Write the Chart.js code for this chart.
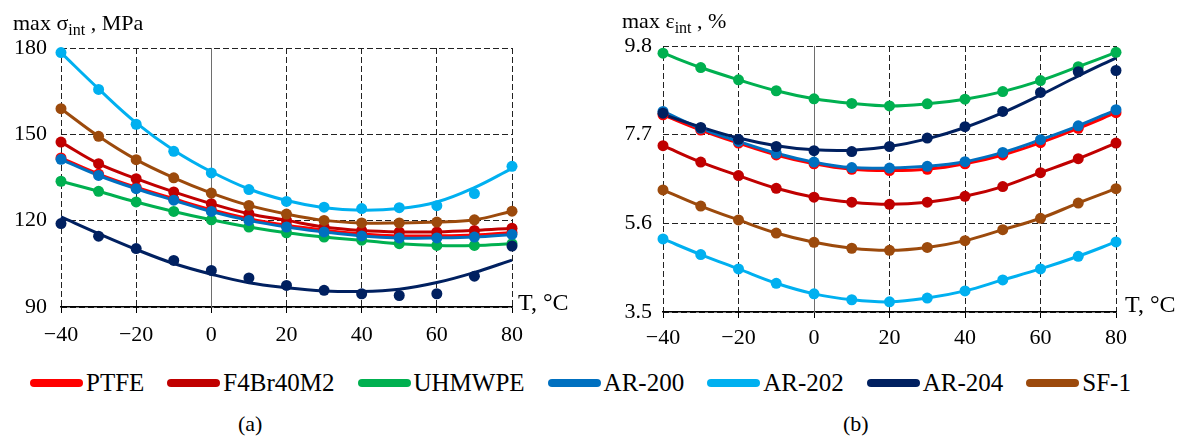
<!DOCTYPE html>
<html>
<head>
<meta charset="utf-8">
<script src="https://cdn.jsdelivr.net/npm/chart.js@4/dist/chart.umd.min.js"></script>
<style>
  html, body { margin: 0; padding: 0; }
  body { width: 1181px; height: 440px; background: #fff; position: relative; overflow: hidden; color: #000; }
  .box { position: absolute; top: 0; }
  .lab { position: absolute; font-family: 'Liberation Serif', 'DejaVu Serif', serif; font-size: 22px;
         line-height: 1; white-space: nowrap; }
  .lab sub { font-size: 16px; vertical-align: -5px; line-height: 0; }
  #legend { position: absolute; left: 30px; top: 368px; display: flex; align-items: center; gap: 23px;
            font-family: 'Liberation Serif', 'DejaVu Serif', serif; font-size: 25px; line-height: 30px; }
  #legend .it { display: flex; align-items: center; }
  #legend .sw { width: 53px; height: 8px; border-radius: 4px; margin-right: 3px; }
</style>
</head>
<body>
<div class="box" style="left:0"><canvas id="chartA" width="590" height="350"></canvas></div>
<div class="box" style="left:600px"><canvas id="chartB" width="581" height="350"></canvas></div>

<div class="lab" style="left:13px;top:12px">max σ<sub>int</sub> , MPa</div>
<div class="lab" style="left:622px;top:10px">max ε<sub>int</sub> , %</div>
<div class="lab" style="left:518px;top:290px;font-size:24px">T, °C</div>
<div class="lab" style="left:1125px;top:292px;font-size:24px">T, °C</div>
<div id="legend"></div>
<div class="lab" style="left:238px;top:413px">(a)</div>
<div class="lab" style="left:843px;top:413px">(b)</div>

<script>
// Temperatures, °C
const temps = [-40, -30, -20, -10, 0, 10, 20, 30, 40, 50, 60, 70, 80];
const seriesNames = ['PTFE', 'F4Br40M2', 'UHMWPE', 'AR-200', 'AR-202', 'AR-204', 'SF-1'];
const seriesColors = ['#FF0000', '#C00000', '#00B050', '#0070C0', '#00B0F0', '#002060', '#9C4A0C'];

// (a) max sigma_int, MPa
const sigmaPTFE   = [141.8, 136.2, 131.6, 127.6, 123.8, 120.7, 118.4, 116.7, 115.4, 114.7, 114.7, 115.0, 115.9];
const sigmaF4     = [147.3, 139.8, 134.6, 130.0, 125.9, 122.4, 120.1, 117.8, 116.6, 116.1, 116.1, 116.6, 117.4];
const sigmaUHMWPE = [133.7, 130.2, 126.5, 123.2, 120.3, 117.8, 115.8, 114.3, 113.2, 112.0, 111.4, 111.4, 112.0];
const sigmaAR200  = [141.3, 135.7, 131.1, 127.1, 123.2, 120.1, 117.8, 116.1, 114.7, 114.0, 114.0, 114.3, 115.2];
const sigmaAR202  = [178.4, 165.6, 153.5, 144.1, 136.6, 130.8, 126.7, 124.7, 124.2, 124.5, 125.2, 129.4, 138.9];
const sigmaAR204  = [119.0, 114.6, 110.3, 106.2, 102.7, 100.1, 97.5, 95.8, 94.6, 94.0, 94.6, 100.7, 111.2];
const sigmaSF1    = [158.9, 149.3, 141.2, 134.9, 129.6, 125.3, 122.3, 120.1, 119.2, 119.2, 119.5, 120.3, 123.3];
// trend curves that do not pass through the dots
const sigmaAR202Fit = [178.4, 165.8, 154.0, 144.5, 137.0, 131.0, 127.0, 124.5, 123.6, 124.2, 126.5, 131.5, 138.2];
const sigmaAR204Fit = [121.3, 115.5, 110.0, 105.1, 101.4, 98.4, 96.7, 95.6, 95.4, 96.2, 98.5, 102.0, 106.3];
const yTicksA = [90, 120, 150, 180];

// (b) max eps_int, %
const epsPTFE   = [8.17, 7.81, 7.50, 7.22, 7.01, 6.88, 6.85, 6.88, 7.01, 7.22, 7.51, 7.85, 8.22];
const epsF4     = [7.44, 7.05, 6.73, 6.43, 6.22, 6.10, 6.05, 6.10, 6.24, 6.47, 6.80, 7.13, 7.50];
const epsUHMWPE = [9.63, 9.29, 9.00, 8.74, 8.55, 8.44, 8.38, 8.43, 8.54, 8.72, 8.98, 9.31, 9.65];
const epsAR200  = [8.25, 7.85, 7.54, 7.26, 7.05, 6.92, 6.91, 6.95, 7.06, 7.28, 7.58, 7.91, 8.29];
const epsAR202  = [5.23, 4.86, 4.52, 4.18, 3.93, 3.79, 3.74, 3.83, 4.00, 4.26, 4.52, 4.82, 5.16];
const epsAR204  = [8.21, 7.87, 7.59, 7.42, 7.32, 7.30, 7.42, 7.62, 7.89, 8.25, 8.70, 9.19, 9.22];
const epsSF1    = [6.39, 6.01, 5.68, 5.37, 5.15, 5.01, 4.96, 5.03, 5.19, 5.45, 5.72, 6.08, 6.42];
const epsAR204Fit = [8.18, 7.88, 7.62, 7.44, 7.34, 7.33, 7.42, 7.60, 7.87, 8.22, 8.64, 9.09, 9.52];
const yTicksB = [3.5, 5.6, 7.7, 9.8];

const xTicks = [-40, -20, 0, 20, 40, 60, 80];

const pts = arr => arr.map((v, i) => ({ x: temps[i], y: v }));

function buildDatasets(dots, fits) {
  const ds = [];
  dots.forEach((arr, i) => {
    ds.push({
      data: pts(fits[i] || arr), showLine: true, tension: 0.4, pointRadius: 0,
      borderColor: seriesColors[i], borderWidth: 3, order: 20 - i, clip: false
    });
    ds.push({
      data: pts(arr), showLine: false, pointRadius: 5.5, pointHoverRadius: 5.5,
      backgroundColor: seriesColors[i], borderColor: seriesColors[i], borderWidth: 0,
      order: 10 - i, clip: false
    });
  });
  return ds;
}

// solid grey line at T = 0
const zeroLine = {
  id: 'zeroLine',
  beforeDatasetsDraw(chart) {
    const x = Math.round(chart.scales.x.getPixelForValue(0)) + 0.5;
    const { top, bottom } = chart.chartArea;
    const c = chart.ctx;
    c.save();
    c.strokeStyle = '#6e6e6e';
    c.lineWidth = 1;
    c.beginPath(); c.moveTo(x, top); c.lineTo(x, bottom); c.stroke();
    c.restore();
  }
};

const serif = "'Liberation Serif', 'DejaVu Serif', serif";

function makeChart(id, datasets, yTicks, yFmt, pad, yWidth, xHeight, yPad, xPad) {
  return new Chart(document.getElementById(id), {
    type: 'scatter',
    data: { datasets },
    plugins: [zeroLine],
    options: {
      responsive: false, animation: false,
      layout: { padding: pad },
      plugins: { legend: { display: false }, tooltip: { enabled: false } },
      scales: {
        x: {
          type: 'linear', min: -40, max: 80,
          afterBuildTicks: s => { s.ticks = xTicks.map(v => ({ value: v })); },
          afterFit: s => { s.height = xHeight; },
          ticks: {
            color: '#000', padding: xPad,
            font: { family: serif, size: 22 },
            callback: v => String(v).replace('-', '\u2212')
          },
          grid: {
            color: c => (c.tick && c.tick.value === 0) ? 'rgba(0,0,0,0)' : '#222',
            tickColor: '#000', tickLength: 6, lineWidth: 1
          },
          border: { display: true, color: '#000', width: 1.5, dash: [6, 3] }
        },
        y: {
          type: 'linear', min: yTicks[0], max: yTicks[yTicks.length - 1],
          afterBuildTicks: s => { s.ticks = yTicks.map(v => ({ value: v })); },
          afterFit: s => { s.width = yWidth; },
          ticks: {
            color: '#000', padding: yPad,
            font: { family: serif, size: 22 },
            callback: yFmt
          },
          grid: { color: '#222', drawTicks: false, lineWidth: 1 },
          border: { display: false, dash: [6, 3] }
        }
      }
    }
  });
}

makeChart('chartA',
  buildDatasets([sigmaPTFE, sigmaF4, sigmaUHMWPE, sigmaAR200, sigmaAR202, sigmaAR204, sigmaSF1],
                [null, null, null, null, sigmaAR202Fit, sigmaAR204Fit, null]),
  yTicksA, v => String(v), { left: 0, top: 48, right: 78, bottom: 0 }, 61, 43, 14, 9);

makeChart('chartB',
  buildDatasets([epsPTFE, epsF4, epsUHMWPE, epsAR200, epsAR202, epsAR204, epsSF1],
                [null, null, null, null, null, epsAR204Fit, null]),
  yTicksB, v => v.toFixed(1), { left: 0, top: 46, right: 65, bottom: 0 }, 63, 38, 11, 7);

// legend
const legend = document.getElementById('legend');
seriesNames.forEach((name, i) => {
  const it = document.createElement('div');
  it.className = 'it';
  const sw = document.createElement('div');
  sw.className = 'sw';
  sw.style.background = seriesColors[i];
  const tx = document.createElement('span');
  tx.textContent = name;
  it.appendChild(sw); it.appendChild(tx);
  legend.appendChild(it);
});
</script>
</body>
</html>
